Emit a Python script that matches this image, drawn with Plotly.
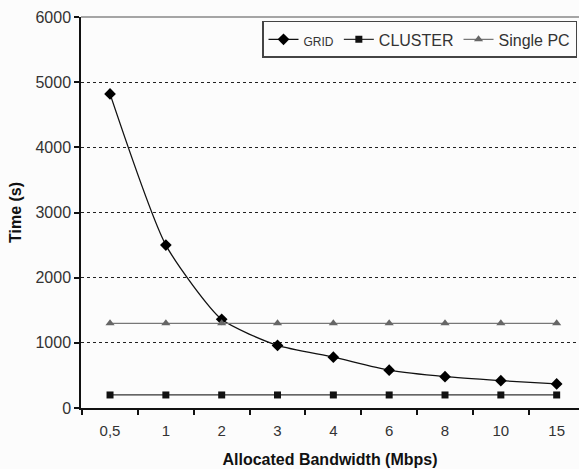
import plotly.graph_objects as go

bandwidth = ["0,5", "1", "2", "3", "4", "6", "8", "10", "15"]
grid_time = [4820, 2500, 1360, 960, 780, 580, 480, 420, 370]
cluster_time = [200, 200, 200, 200, 200, 200, 200, 200, 200]
single_pc_time = [1300, 1300, 1300, 1300, 1300, 1300, 1300, 1300, 1300]

fig = go.Figure()

fig.add_trace(go.Scatter(
    x=bandwidth, y=grid_time, mode="lines+markers",
    name="<span style='font-size:12px'>GRID</span>",
    line=dict(color="#111111", width=1.3, shape="spline", smoothing=0.6),
    marker=dict(symbol="diamond", size=9, color="#000000"),
))
fig.add_trace(go.Scatter(
    x=bandwidth, y=cluster_time, mode="lines+markers", name="CLUSTER",
    line=dict(color="#333333", width=1.3),
    marker=dict(symbol="square", size=7, color="#111111"),
))
fig.add_trace(go.Scatter(
    x=bandwidth, y=single_pc_time, mode="lines+markers", name="Single PC",
    line=dict(color="#777777", width=1.2),
    marker=dict(symbol="triangle-up", size=8, color="#666666"),
))

# top frame line of the plot area
fig.add_shape(type="line", xref="paper", yref="paper", x0=0, x1=1, y0=1, y1=1,
              line=dict(color="#888888", width=1.5))

fig.update_layout(
    width=579, height=469,
    margin=dict(l=81, r=0, t=17, b=61),
    paper_bgcolor="#fcfcfc", plot_bgcolor="#fcfcfc",
    font=dict(family="Liberation Sans, Arial", size=15, color="#333333"),
    showlegend=True,
    legend=dict(
        orientation="h", x=0.996, xanchor="right", y=0.99, yanchor="top",
        bgcolor="#fcfcfc", bordercolor="#444444", borderwidth=1.5,
        font=dict(size=16, color="#333333"),
        itemwidth=30, tracegroupgap=0,
    ),
    xaxis=dict(
        type="category", range=[-0.52, 8.40],
        showline=True, linecolor="#111111", linewidth=1.5,
        ticks="outside", tickson="boundaries", ticklen=5, tickcolor="#111111", tickwidth=1.5,
        ticklabelstandoff=8,
        showgrid=False, zeroline=False,
        tickfont=dict(size=15, color="#333333"),
        title=dict(text="<b>Allocated Bandwidth (Mbps)</b>", font=dict(size=16, color="#111111"), standoff=16),
        automargin=False,
    ),
    yaxis=dict(
        range=[0, 6000], tickvals=[0, 1000, 2000, 3000, 4000, 5000, 6000],
        showline=True, linecolor="#111111", linewidth=1.5,
        ticks="outside", ticklen=5, tickcolor="#111111", tickwidth=1.5,
        showgrid=True, gridcolor="#222222", griddash="dot", gridwidth=1.3,
        zeroline=False,
        tickfont=dict(size=16, color="#333333"),
        title=dict(text="<b>Time (s)</b>", font=dict(size=16, color="#111111"), standoff=10),
    ),
)

fig.write_html("out.html")
